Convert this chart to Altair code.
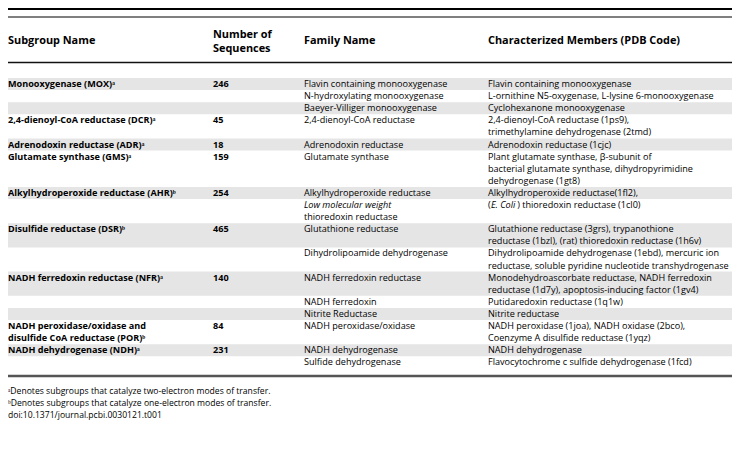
import altair as alt
import pandas as pd

# ---------------- table content ----------------
header_labels = ["Subgroup Name", "Number of|Sequences", "Family Name",
                 "Characterized Members (PDB Code)"]

subgroup_names = [
    "Monooxygenase (MOX)",
    "2,4-dienoyl-CoA reductase (DCR)",
    "Adrenodoxin reductase (ADR)",
    "Glutamate synthase (GMS)",
    "Alkylhydroperoxide reductase (AHR)",
    "Disulfide reductase (DSR)",
    "NADH ferredoxin reductase (NFR)",
    "NADH peroxidase/oxidase and|disulfide CoA reductase (POR)",
    "NADH dehydrogenase (NDH)",
]
subgroup_notes = ["a", "a", "a", "a", "b", "b", "a", "b", "a"]
sequence_counts = [246, 45, 18, 159, 254, 465, 140, 84, 231]
# table sub-row at which each subgroup starts
subgroup_rows = [0, 3, 4, 5, 6, 8, 10, 13, 14]

family_names = [
    ["Flavin containing monooxygenase"],
    ["N-hydroxylating monooxygenase"],
    ["Baeyer-Villiger monooxygenase"],
    ["2,4-dienoyl-CoA reductase"],
    ["Adrenodoxin reductase"],
    ["Glutamate synthase"],
    ["Alkylhydroperoxide reductase"],
    ["Low molecular weight", "thioredoxin reductase"],
    ["Glutathione reductase"],
    ["Dihydrolipoamide dehydrogenase"],
    ["NADH ferredoxin reductase"],
    ["NADH ferredoxin"],
    ["Nitrite Reductase"],
    ["NADH peroxidase/oxidase"],
    ["NADH dehydrogenase"],
    ["Sulfide dehydrogenase"],
]
member_lines = [
    ["Flavin containing monooxygenase"],
    ["L-ornithine N5-oxygenase, L-lysine 6-monooxygenase"],
    ["Cyclohexanone monooxygenase"],
    ["2,4-dienoyl-CoA reductase (1ps9),", "trimethylamine dehydrogenase (2tmd)"],
    ["Adrenodoxin reductase (1cjc)"],
    ["Plant glutamate synthase, \u03b2-subunit of",
     "bacterial glutamate synthase, dihydropyrimidine",
     "dehydrogenase (1gt8)"],
    ["Alkylhydroperoxide reductase(1fl2),"],
    ["(E. Coli) thioredoxin reductase (1cl0)"],
    ["Glutathione reductase (3grs), trypanothione",
     "reductase (1bzl), (rat) thioredoxin reductase (1h6v)"],
    ["Dihydrolipoamide dehydrogenase (1ebd), mercuric ion",
     "reductase, soluble pyridine nucleotide transhydrogenase"],
    ["Monodehydroascorbate reductase, NADH ferredoxin",
     "reductase (1d7y), apoptosis-inducing factor (1gv4)"],
    ["Putidaredoxin reductase (1q1w)"],
    ["Nitrite reductase"],
    ["NADH peroxidase (1joa), NADH oxidase (2bco),",
     "Coenzyme A disulfide reductase (1yqz)"],
    ["NADH dehydrogenase"],
    ["Flavocytochrome c sulfide dehydrogenase (1fcd)"],
]
italic_texts = ["Low molecular weight"]
inline_italic = "E. Coli"

footnotes = [
    "\u1d43Denotes subgroups that catalyze two-electron modes of transfer.",
    "\u1d47Denotes subgroups that catalyze one-electron modes of transfer.",
    "doi:10.1371/journal.pcbi.0030121.t001",
]

# ---------------- layout / style ----------------
W, H = 724, 441
COL_X = [0, 205, 296, 480]
FONT = "Open Sans"
BODY = 9.1
HEAD = 10.9
NOTE = 8.6
SUP = {"a": "\u1d43", "b": "\u1d47"}
BAND = "#e5e5e5"
D1, D2 = 2.9, 29.2

# ---------------- build tables ----------------
sub_at = {r: i for i, r in enumerate(subgroup_rows)}
recs, bands = [], []
line = 0
for r, (fam, mem) in enumerate(zip(family_names, member_lines)):
    sub_lines = []
    if r in sub_at:
        i = sub_at[r]
        sub_lines = subgroup_names[i].split("|")
        sub_lines[-1] = sub_lines[-1] + SUP[subgroup_notes[i]]
        for k, t in enumerate(sub_lines):
            recs.append(dict(ci=0, pos=line + k + 0.5, text=t, style="bold"))
        recs.append(dict(ci=1, pos=line + 0.5, text=str(sequence_counts[i]), style="bold"))
    for k, t in enumerate(fam):
        recs.append(dict(ci=2, pos=line + k + 0.5, text=t,
                         style="italic" if t in italic_texts else "regular"))
    for k, t in enumerate(mem):
        if inline_italic in t:
            a, b = t.split(inline_italic, 1)
            recs.append(dict(ci=3, pos=line + k + 0.5, text=a, style="regular"))
            recs.append(dict(ci=3, pos=line + k + 0.5, text=inline_italic, style="inl"))
            recs.append(dict(ci=3, pos=line + k + 0.5, text=b, style="tail"))
        else:
            recs.append(dict(ci=3, pos=line + k + 0.5, text=t, style="regular"))
    n = max(len(fam), len(mem), len(sub_lines))
    bands.append(dict(pos=line, pos2=line + n, shade=(r % 2 == 0)))
    line += n

df = pd.DataFrame(recs)
bdf = pd.DataFrame(bands)
bdf = bdf[bdf.shade]

xs = alt.Scale(domain=[0, 1, 2, 3], range=COL_X)
ys = alt.Scale(domain=[0, line], range=[70, 70 + line * 12.1])
X = alt.X("ci:Q", scale=xs, axis=None)
Y = alt.Y("pos:Q", scale=ys, axis=None)

band_layer = alt.Chart(bdf).mark_rect(color=BAND).encode(
    x=alt.value(0), x2=alt.value(W), y=Y, y2="pos2:Q")


def txt(style, **kw):
    return alt.Chart(df).transform_filter(alt.datum.style == style).mark_text(
        align="left", baseline="middle", font=FONT, fontSize=BODY, color="#000", **kw
    ).encode(x=X, y=Y, text="text:N")


bold_layer = txt("bold", fontWeight="bold")
reg_layer = txt("regular")
ital_layer = txt("italic", fontStyle="italic")
inl_layer = txt("inl", fontStyle="italic", dx=D1)
tail_layer = txt("tail", dx=D2)

hrecs = []
for c, lab in enumerate(header_labels):
    parts = lab.split("|")
    for k, t in enumerate(parts):
        hrecs.append(dict(ci=c, text=t, hl=k, nl=len(parts)))
hdf = pd.DataFrame(hrecs)


def head(cond, yv):
    return alt.Chart(hdf).transform_filter(cond).mark_text(
        align="left", baseline="middle", font=FONT, fontSize=HEAD, fontWeight="bold", color="#000"
    ).encode(x=X, y=alt.value(yv), text="text:N")


head1 = head(alt.datum.nl == 1, 33)
head2a = head((alt.datum.nl == 2) & (alt.datum.hl == 0), 27)
head2b = head((alt.datum.nl == 2) & (alt.datum.hl == 1), 41)


def rule(y, w, c):
    return alt.Chart(pd.DataFrame({"k": [0]})).mark_rule(strokeWidth=w, color=c).encode(
        x=alt.value(0), x2=alt.value(W), y=alt.value(y))


rules = [rule(1, 2, "#000"), rule(9, 1, "#000"), rule(54.5, 1.3, "#111"), rule(368, 2.4, "#555")]

fdf = pd.DataFrame({"text": footnotes, "k": list(range(len(footnotes)))})
note_layer = alt.Chart(fdf).mark_text(
    align="left", baseline="middle", font=FONT, fontSize=NOTE, color="#000"
).encode(
    x=alt.value(0),
    y=alt.Y("k:Q", scale=alt.Scale(domain=[0, 2], range=[383, 407]), axis=None),
    text="text:N")

chart = alt.layer(
    band_layer, *rules, bold_layer, reg_layer, ital_layer, inl_layer, tail_layer,
    head1, head2a, head2b, note_layer
).resolve_scale(y="independent").properties(
    width=W, height=H, autosize=alt.AutoSizeParams(type="none"), padding=0
).configure_view(stroke=None)

chart.save("out.html", embed_options={"renderer": "svg", "actions": False})
